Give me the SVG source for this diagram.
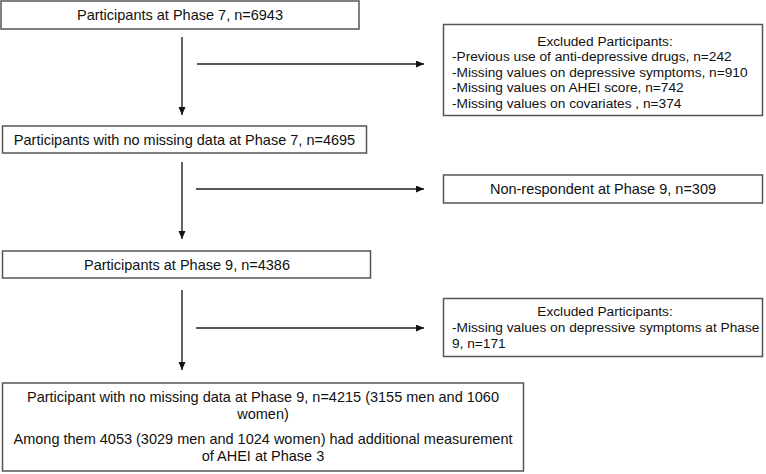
<svg xmlns="http://www.w3.org/2000/svg" width="766" height="474" viewBox="0 0 766 474">
<style>
.box{fill:#fff;stroke:#555;stroke-width:1.5}
.t{font-family:"Liberation Sans",Arial,sans-serif;font-size:14.5px;fill:#111}
.s{font-family:"Liberation Sans",Arial,sans-serif;font-size:13.7px;fill:#111}
.c{text-anchor:middle}
.ln{stroke:#222;stroke-width:1.4;fill:none;marker-end:url(#ah)}
</style>
<defs>
<marker id="ah" markerUnits="userSpaceOnUse" markerWidth="9" markerHeight="8" refX="8" refY="3.5" orient="auto">
<path d="M0,0 L8,3.5 L0,7 z" fill="#111"/>
</marker>
</defs>
<rect width="766" height="474" fill="#fff"/>
<g id="connectors">
<line class="ln" x1="182" y1="37" x2="182" y2="115"/>
<line class="ln" x1="197" y1="64" x2="424" y2="64"/>
<line class="ln" x1="182" y1="162" x2="182" y2="239"/>
<line class="ln" x1="196" y1="189" x2="424" y2="189"/>
<line class="ln" x1="182" y1="290" x2="182" y2="370"/>
<line class="ln" x1="196" y1="328" x2="424" y2="328"/>
</g>
<g id="n1">
<rect class="box" x="1" y="1" width="358" height="28"/>
<text class="t c" x="180" y="20">Participants at Phase 7, n=6943</text>
</g>
<g id="n2">
<rect class="box" x="443.5" y="24.5" width="319" height="91"/>
<text class="s c" x="605" y="45.5">Excluded Participants:</text>
<text class="s" x="452" y="61">-Previous use of anti-depressive drugs, n=242</text>
<text class="s" x="452" y="76.5">-Missing values on depressive symptoms, n=910</text>
<text class="s" x="452" y="92">-Missing values on AHEI score, n=742</text>
<text class="s" x="452" y="107.5">-Missing values on covariates , n=374</text>
</g>
<g id="n3">
<rect class="box" x="2.5" y="126" width="364" height="27"/>
<text class="t c" x="184.5" y="145">Participants with no missing data at Phase 7, n=4695</text>
</g>
<g id="n4">
<rect class="box" x="443.5" y="175" width="319" height="28"/>
<text class="t c" x="603" y="194">Non-respondent at Phase 9, n=309</text>
</g>
<g id="n5">
<rect class="box" x="2.5" y="251" width="368" height="27"/>
<text class="t c" x="187" y="270">Participants at Phase 9, n=4386</text>
</g>
<g id="n6">
<rect class="box" x="443.5" y="298.5" width="319" height="58"/>
<text class="s c" x="605" y="316">Excluded Participants:</text>
<text class="s" x="452" y="332">-Missing values on depressive symptoms at Phase</text>
<text class="s" x="452" y="348">9, n=171</text>
</g>
<g id="n7">
<rect class="box" x="2.5" y="383" width="521" height="88"/>
<text class="t c" x="263" y="402">Participant with no missing data at Phase 9, n=4215 (3155 men and 1060</text>
<text class="t c" x="263" y="419">women)</text>
<text class="t c" x="263" y="444">Among them 4053 (3029 men and 1024 women) had additional measurement</text>
<text class="t c" x="263" y="461">of AHEI at Phase 3</text>
</g>
</svg>
